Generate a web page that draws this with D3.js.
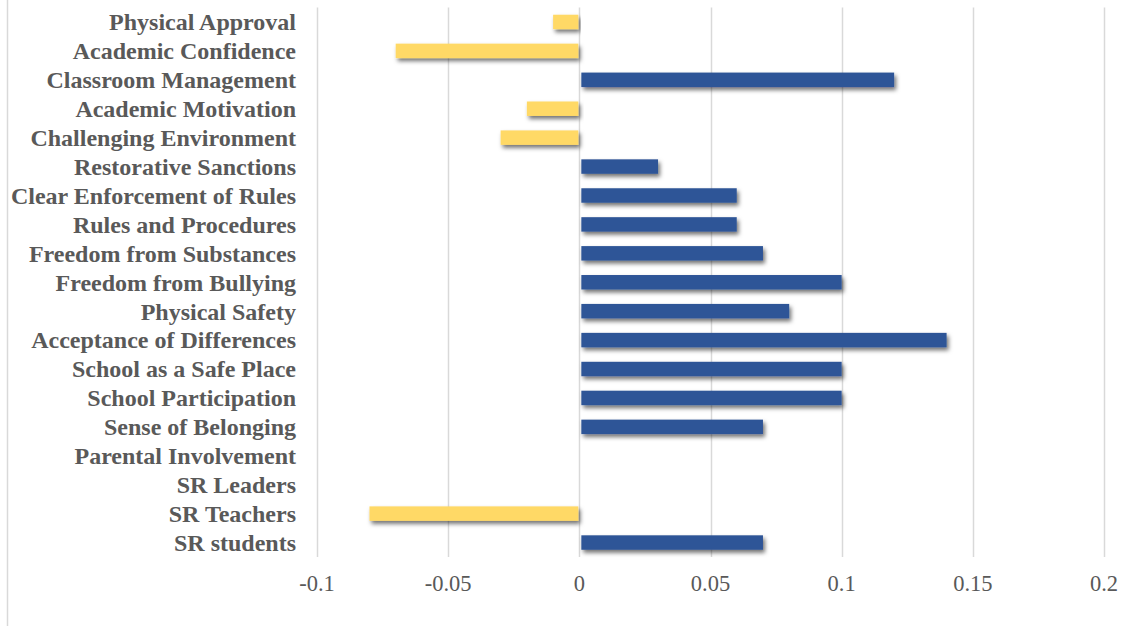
<!DOCTYPE html>
<html>
<head>
<meta charset="utf-8">
<script src="https://cdn.jsdelivr.net/npm/d3@7"></script>
<style>
  html, body { margin: 0; padding: 0; background: #fff; }
  svg { display: block; }
</style>
</head>
<body>
<svg id="chart" width="1125" height="626"></svg>
<script>
const categories = [
  "Physical Approval", "Academic Confidence", "Classroom Management", "Academic Motivation",
  "Challenging Environment", "Restorative Sanctions", "Clear Enforcement of Rules",
  "Rules and Procedures", "Freedom from Substances", "Freedom from Bullying",
  "Physical Safety", "Acceptance of Differences", "School as a Safe Place",
  "School Participation", "Sense of Belonging", "Parental Involvement",
  "SR Leaders", "SR Teachers", "SR students"
];
const values = [
  -0.01, -0.07, 0.12, -0.02, -0.03, 0.03, 0.06, 0.06, 0.07, 0.10,
  0.08, 0.14, 0.10, 0.10, 0.07, 0, 0, -0.08, 0.07
];
const tickValues = [-0.1, -0.05, 0, 0.05, 0.1, 0.15, 0.2];
const tickLabels = ["-0.1", "-0.05", "0", "0.05", "0.1", "0.15", "0.2"];

const svg = d3.select("#chart");
const W = 1125, H = 626;
const plot = { left: 317, right: 1104, top: 7.5, bottom: 557 };

// frame line on the left edge
svg.append("line")
  .attr("x1", 7.5).attr("x2", 7.5).attr("y1", 0).attr("y2", H)
  .attr("stroke", "#d9d9d9").attr("stroke-width", 1.5);

const defs = svg.append("defs");
const f = defs.append("filter").attr("id", "shadow")
  .attr("x", "-10%").attr("y", "-50%").attr("width", "120%").attr("height", "220%");
f.append("feDropShadow")
  .attr("dx", 2).attr("dy", 3).attr("stdDeviation", 2)
  .attr("flood-color", "#000").attr("flood-opacity", 0.55);

const x = d3.scaleLinear().domain([-0.1, 0.2]).range([plot.left, plot.right]);
const y = d3.scaleBand().domain(categories).range([plot.top, plot.bottom]).paddingInner(0.5).paddingOuter(0.25);

// vertical gridlines
svg.append("g").selectAll("line").data(tickValues).join("line")
  .attr("x1", d => Math.round(x(d)) + 0.5).attr("x2", d => Math.round(x(d)) + 0.5)
  .attr("y1", plot.top).attr("y2", plot.bottom)
  .attr("stroke", "#d9d9d9").attr("stroke-width", 1.5);

// bars
svg.append("g").selectAll("rect").data(categories.map((c, i) => ({ c, v: values[i] })))
  .join("rect")
  .filter(d => d.v !== 0)
  .attr("x", d => d.v >= 0 ? x(0) + 2 : x(d.v))
  .attr("width", d => d.v >= 0 ? x(d.v) - x(0) - 2 : x(0) - x(d.v) - 1)
  .attr("y", d => y(d.c))
  .attr("height", y.bandwidth())
  .attr("fill", d => d.v >= 0 ? "#2f5597" : "#ffd966")
  .attr("filter", "url(#shadow)");

// category labels
svg.append("g").selectAll("text").data(categories).join("text")
  .attr("x", 296)
  .attr("y", d => y(d) + y.bandwidth() / 2)
  .attr("dy", "0.35em")
  .attr("text-anchor", "end")
  .attr("font-family", "'Liberation Serif', 'Times New Roman', serif")
  .attr("font-weight", "bold")
  .attr("font-size", "24px")
  .attr("fill", "#595959")
  .text(d => d);

// x tick labels
svg.append("g").selectAll("text").data(tickValues).join("text")
  .attr("x", d => x(d))
  .attr("y", 583)
  .attr("dy", "0.35em")
  .attr("text-anchor", "middle")
  .attr("font-family", "'Liberation Serif', 'Times New Roman', serif")
  .attr("font-size", "22.5px")
  .attr("fill", "#595959")
  .text((d, i) => tickLabels[i]);
</script>
</body>
</html>
